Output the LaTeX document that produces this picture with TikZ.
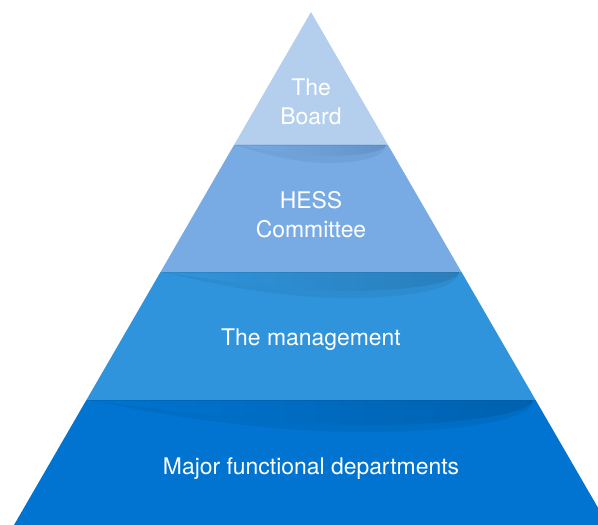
\documentclass[tikz,border=0pt]{standalone}
\usepackage{fontspec}
\setmainfont{TeX Gyre Heros}
\usetikzlibrary{positioning}
\definecolor{boardc}{RGB}{180,206,238}
\definecolor{hessc}{RGB}{120,171,228}
\definecolor{mgmtc}{RGB}{48,148,220}
\definecolor{deptc}{RGB}{0,116,208}
\definecolor{hessdk}{RGB}{82,127,178}
\definecolor{mgmtdk}{RGB}{36,108,160}
\definecolor{deptdk}{RGB}{0,82,148}
\tikzstyle{every node}=[font=\fontsize{23}{29}\selectfont, text=white, align=center]
\tikzstyle{edge}=[line width=.8bp, opacity=.3]
% crescent shadow under a step: {left x}{right x}{y}{depth}{dark}{band}
\newcommand{\crescent}[6]{%
  \fill[#5, opacity=.2] (#1,#3) .. controls ({#1+.25*(#2-#1)},{#3+.7*(#4+7)}) and ({#1+.45*(#2-#1)},{#3+#4+7}) .. ({#1+.62*(#2-#1)},{#3+#4+7})
    .. controls ({#1+.85*(#2-#1)},{#3+#4+7}) and (#2,{#3+.6*(#4+7)}) .. (#2,#3) -- cycle;
  \shade[left color=#6, middle color=#5, right color=#5!55!#6] (#1,#3) .. controls ({#1+.25*(#2-#1)},{#3+.6*#4}) and ({#1+.45*(#2-#1)},{#3+#4}) .. ({#1+.62*(#2-#1)},{#3+#4})
    .. controls ({#1+.85*(#2-#1)},{#3+#4}) and (#2,{#3+.5*#4}) .. (#2,#3) -- cycle;
  \draw[edge, #5] (#1,#3) -- (#2,#3);}

\begin{document}
\begin{tikzpicture}[x=1bp, y=-1bp]
  \useasboundingbox (0,0) rectangle (598,525);
  % layers, top to bottom
  \fill[boardc] (311,12) -- (388,145) -- (234,145) -- cycle;
  \fill[hessc] (234,145) -- (388,145) -- (461.5,272) -- (160.5,272) -- cycle;
  \fill[mgmtc] (160.5,272) -- (461.5,272) -- (535.6,400) -- (86.4,400) -- cycle;
  \fill[deptc] (86.4,400) -- (535.6,400) -- (608,525) -- (14,525) -- cycle;
  % shadows under each step
  \crescent{236}{386}{145}{11}{hessdk}{hessc}
  \crescent{163}{459}{272}{19}{mgmtdk}{mgmtc}
  \crescent{89}{533}{400}{25}{deptdk}{deptc}
  % labels
  \node (board) at (311,102) {The\\Board};
  \node (hess) at (311,215) {HESS\\Committee};
  \node (mgmt) at (311,340) {The management};
  \node (dept) at (311,469) {Major functional departments};
\end{tikzpicture}
\end{document}
